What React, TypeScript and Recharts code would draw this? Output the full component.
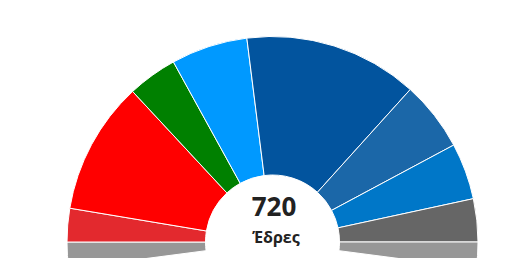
import React from 'react'
import { PieChart, Pie, Cell } from 'recharts'

// Seats per group, left to right. "Others" is split on both ends below the horizon.
const groups = ['Λοιποί', 'Αριστερά', 'S&D', 'Πράσινοι', 'Renew', 'ΕΛΚ', 'ECR', 'ID', 'ΜΕ', 'Λοιποί ']
const seats = [27.5, 35, 139, 52, 80, 182, 73, 59, 45, 27.5]
const colors = ['#979797', '#e3292e', '#ff0000', '#008000', '#0099ff', '#02549e', '#1b67a8', '#0077c8', '#666666', '#979797']

const totalSeats = 720
const totalLabel = 'Έδρες'

const data = groups.map((name, i) => ({ name, value: seats[i] }))

// the named groups fill the upper half, "Others" spills past it on each side
const mainSeats = seats.slice(1, -1).reduce((a, b) => a + b, 0)
const extra = (seats[0] / mainSeats) * 180

export default function App() {
  return (
    <div style={{ position: 'absolute', left: 0, top: 0, width: 526, height: 258, overflow: 'hidden', background: '#fff' }}>
      <PieChart width={526} height={258} margin={{ top: 0, right: 0, bottom: 0, left: 0 }}>
        <Pie
          data={data}
          dataKey="value"
          nameKey="name"
          cx={272.5}
          cy={242}
          innerRadius={67}
          outerRadius={205.5}
          startAngle={180 + extra}
          endAngle={-extra}
          stroke="#ffffff"
          strokeWidth={1}
          isAnimationActive={false}
        >
          {data.map((d, i) => (
            <Cell key={i} fill={colors[i]} />
          ))}
        </Pie>
      </PieChart>
      <div
        style={{
          position: 'absolute', left: 224, top: 190, width: 100, textAlign: 'center',
          fontFamily: '"Open Sans", sans-serif', fontWeight: 700, fontSize: 26, lineHeight: '32px', color: '#222',
        }}
      >
        {totalSeats}
      </div>
      <div
        style={{
          position: 'absolute', left: 226, top: 227, width: 100, textAlign: 'center',
          fontFamily: '"Open Sans", sans-serif', fontWeight: 700, fontSize: 16, lineHeight: '20px', color: '#222',
        }}
      >
        {totalLabel}
      </div>
    </div>
  )
}
